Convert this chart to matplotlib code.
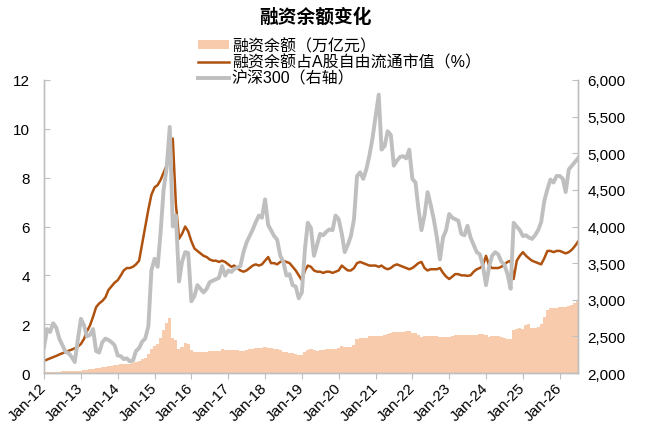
import matplotlib
matplotlib.use("Agg")
import matplotlib.pyplot as plt
import matplotlib.dates as mdates
from matplotlib.ticker import FuncFormatter
import pandas as pd

plt.rcParams["font.family"] = ["Liberation Sans", "Noto Sans CJK SC", "DejaVu Sans"]

# monthly points, Jan 2012 .. Jul 2026
months = pd.date_range("2012-01-01", "2026-07-01", freq="MS")

# 融资余额 (万亿元)
margin_balance = [
    0.03, 0.04, 0.045, 0.05, 0.055, 0.06, 0.065, 0.07, 0.075, 0.08, 0.085, 0.09,   # 2012
    0.10, 0.12, 0.14, 0.16, 0.18, 0.20, 0.22, 0.24, 0.26, 0.28, 0.30, 0.32,        # 2013
    0.33, 0.35, 0.37, 0.38, 0.39, 0.40, 0.44, 0.50, 0.56, 0.63, 0.76, 0.98,        # 2014
    1.10, 1.20, 1.45, 1.75, 2.05, 2.25, 1.45, 1.35, 1.00, 1.05, 1.25, 1.20,        # 2015
    0.95, 0.88, 0.88, 0.88, 0.88, 0.88, 0.90, 0.92, 0.91, 0.92, 0.97, 0.96,        # 2016
    0.93, 0.95, 0.96, 0.93, 0.90, 0.91, 0.95, 0.98, 1.00, 1.02, 1.03, 1.02,        # 2017
    1.06, 1.04, 1.03, 1.00, 0.98, 0.93, 0.88, 0.85, 0.84, 0.80, 0.78, 0.74,        # 2018
    0.73, 0.85, 0.96, 0.97, 0.93, 0.90, 0.93, 0.95, 0.97, 0.97, 0.98, 1.00,        # 2019
    1.03, 1.10, 1.05, 1.05, 1.07, 1.13, 1.38, 1.45, 1.45, 1.45, 1.50, 1.52,        # 2020
    1.52, 1.53, 1.52, 1.56, 1.60, 1.63, 1.66, 1.70, 1.70, 1.70, 1.72, 1.72,        # 2021
    1.65, 1.62, 1.55, 1.48, 1.50, 1.53, 1.52, 1.52, 1.50, 1.47, 1.48, 1.47,        # 2022
    1.49, 1.53, 1.55, 1.55, 1.54, 1.55, 1.55, 1.57, 1.56, 1.55, 1.58, 1.58,        # 2023
    1.55, 1.47, 1.50, 1.50, 1.51, 1.48, 1.45, 1.38, 1.38, 1.75, 1.82, 1.85,        # 2024
    1.82, 1.95, 2.00, 1.85, 1.85, 1.90, 2.00, 2.30, 2.60, 2.68, 2.65, 2.65,        # 2025
    2.72, 2.70, 2.72, 2.75, 2.80, 2.85, 2.95,                                      # 2026
]

# 融资余额占A股自由流通市值 (%)
margin_ratio = [
    0.50, 0.55, 0.60, 0.65, 0.70, 0.76, 0.81, 0.86, 0.91, 0.96, 1.01, 1.08,        # 2012
    1.19, 1.40, 1.70, 1.95, 2.30, 2.70, 2.85, 2.95, 3.10, 3.40, 3.55, 3.70,        # 2013
    3.80, 4.00, 4.20, 4.30, 4.30, 4.35, 4.45, 4.60, 5.30, 6.00, 6.70, 7.30,        # 2014
    7.60, 7.70, 7.90, 8.20, 8.50, 8.90, 9.60, 6.90, 5.50, 5.70, 6.00, 5.80,        # 2015
    5.40, 5.10, 5.00, 4.90, 4.80, 4.75, 4.65, 4.60, 4.60, 4.55, 4.60, 4.55,        # 2016
    4.45, 4.35, 4.40, 4.30, 4.20, 4.15, 4.20, 4.30, 4.40, 4.45, 4.40, 4.45,        # 2017
    4.60, 4.75, 4.50, 4.50, 4.45, 4.55, 4.60, 4.55, 4.50, 4.35, 4.20, 4.00,        # 2018
    3.80, 4.20, 4.40, 4.35, 4.20, 4.15, 4.15, 4.10, 4.15, 4.15, 4.10, 4.15,        # 2019
    4.20, 4.40, 4.30, 4.20, 4.20, 4.30, 4.50, 4.55, 4.50, 4.45, 4.40, 4.40,        # 2020
    4.40, 4.35, 4.40, 4.30, 4.25, 4.30, 4.40, 4.45, 4.40, 4.35, 4.30, 4.25,        # 2021
    4.30, 4.40, 4.50, 4.55, 4.30, 4.20, 4.25, 4.25, 4.25, 4.30, 4.10, 3.95,        # 2022
    3.85, 3.95, 4.05, 4.05, 4.00, 4.00, 3.98, 4.00, 4.15, 4.25, 4.30, 4.40,        # 2023
    4.80, 4.40, 4.30, 4.30, 4.30, 4.35, 4.45, 4.55, 4.60, 3.85, 4.60, 4.80,        # 2024
    4.95, 4.80, 4.70, 4.60, 4.55, 4.50, 4.45, 4.70, 5.00, 5.00, 4.95, 5.00,        # 2025
    5.00, 4.95, 4.90, 4.95, 5.05, 5.20, 5.38,                                      # 2026
]

# 沪深300 (右轴)
csi300 = [
    2350, 2600, 2560, 2680, 2620, 2470, 2380, 2290, 2270, 2220, 2150, 2450,  # 2012
    2740, 2650, 2500, 2520, 2600, 2300, 2280, 2420, 2470, 2450, 2420, 2380,  # 2013
    2240, 2230, 2190, 2200, 2160, 2170, 2300, 2340, 2430, 2470, 2640, 3400,  # 2014
    3560, 3450, 3900, 4500, 4800, 5360, 4000, 4150, 3250, 3520, 3650, 3640,  # 2015
    2980, 3050, 3200, 3150, 3100, 3150, 3240, 3260, 3280, 3300, 3460, 3330,  # 2016
    3400, 3380, 3420, 3440, 3460, 3650, 3780, 3870, 3960, 4060, 4150, 4120,  # 2017
    4370, 4020, 3950, 3870, 3820, 3600, 3520, 3330, 3350, 3200, 3180, 3020,  # 2018
    3100, 3700, 4050, 3980, 3600, 3750, 3900, 3880, 3930, 3960, 3950, 4150,  # 2019
    4100, 3900, 3650, 3750, 3870, 4100, 4690, 4740, 4650, 4780, 4970, 5200,  # 2020
    5500, 5800, 5050, 5100, 5300, 5250, 4830, 4900, 4950, 4960, 4930, 5050,  # 2021
    4650, 4600, 4250, 3950, 4150, 4470, 4300, 4100, 3850, 3550, 3850, 3950,  # 2022
    4170, 4120, 4100, 4080, 3900, 3880, 4010, 3850, 3750, 3650, 3620, 3470,  # 2023
    3200, 3450, 3600, 3650, 3620, 3520, 3480, 3350, 3150, 4050, 4000, 3950,  # 2024
    3870, 3880, 3850, 3830, 3880, 3950, 4060, 4350, 4510, 4640, 4600, 4690,  # 2025
    4690, 4650, 4470, 4780, 4830, 4880, 4930,                                # 2026
]

left_ticks = [0, 2, 4, 6, 8, 10, 12]
right_ticks = [2000, 2500, 3000, 3500, 4000, 4500, 5000, 5500, 6000]

bar_color = "#F8CBAD"
ratio_color = "#B0520F"
csi_color = "#BFBFBF"
axis_color = "#BFBFBF"

fig = plt.figure(figsize=(6.5, 4.39), dpi=100)
ax = fig.add_axes([0.0677, 0.148, 0.8215, 0.6675])
ax2 = ax.twinx()

b = ax.bar(months, margin_balance, width=31, color=bar_color, linewidth=0,
           label="融资余额（万亿元）")
l1, = ax.plot(months, margin_ratio, color=ratio_color, lw=1.8,
              label="融资余额占A股自由流通市值（%）")
l2, = ax2.plot(months, csi300, color=csi_color, lw=2.8, label="沪深300（右轴）")

ax.set_ylim(0, 12)
ax.set_yticks(left_ticks)
ax2.set_ylim(2000, 6000)
ax2.set_yticks(right_ticks)
ax2.yaxis.set_major_formatter(FuncFormatter(lambda v, p: f"{int(v):,}"))

ax.set_xlim(pd.Timestamp("2012-01-01"), pd.Timestamp("2026-07-01"))
ax.xaxis.set_major_locator(mdates.YearLocator())
ax.xaxis.set_major_formatter(mdates.DateFormatter("Jan-%y"))

for a in (ax, ax2):
    a.spines["top"].set_visible(False)
    for s in ("left", "right", "bottom"):
        a.spines[s].set_color(axis_color)
        a.spines[s].set_linewidth(1.0)

ax.tick_params(axis="y", direction="in", length=4, color=axis_color,
               labelsize=11, pad=10)
ax2.tick_params(axis="y", direction="in", length=4, color=axis_color,
                labelsize=11, pad=7)
ax.tick_params(axis="x", direction="out", length=4, color=axis_color,
               labelsize=11, pad=5)
for lbl in ax.get_xticklabels():
    lbl.set_rotation(45)
    lbl.set_ha("right")
    lbl.set_va("center")
    lbl.set_rotation_mode("anchor")

fig.text(0.485, 1 - 17 / 439, "融资余额变化", ha="center", va="center",
         fontsize=13.5, fontweight="bold")

fig.legend(handles=[b, l1, l2], loc="center left",
           bbox_to_anchor=(0.305, 1 - 63 / 439), frameon=False,
           fontsize=11.5, handlelength=1.9, handleheight=0.5,
           handletextpad=0.2, labelspacing=0.05, borderpad=0, borderaxespad=0)

fig.savefig("out.png", dpi=100)
